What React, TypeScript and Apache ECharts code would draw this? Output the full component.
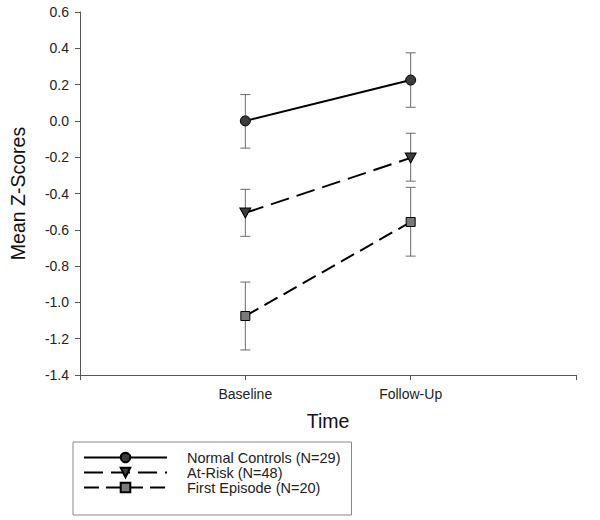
import React, { useEffect, useRef } from "react";
import * as echarts from "echarts";

const timePoints = ["Baseline", "Follow-Up"];
const groupNames = ["Normal Controls (N=29)", "At-Risk (N=48)", "First Episode (N=20)"];

const normalMean = [0.0, 0.225];
const normalLow = [-0.15, 0.075];
const normalHigh = [0.145, 0.375];

const atRiskMean = [-0.507, -0.204];
const atRiskLow = [-0.636, -0.332];
const atRiskHigh = [-0.377, -0.068];

const firstMean = [-1.075, -0.557];
const firstLow = [-1.262, -0.745];
const firstHigh = [-0.888, -0.366];

const yTicks = [-1.4, -1.2, -1.0, -0.8, -0.6, -0.4, -0.2, 0.0, 0.2, 0.4, 0.6];

const FONT = "'Liberation Sans', Arial, Helvetica, sans-serif";

const tri = "path://M0,0 L10,0 L5,9 Z";

function App() {
  const ref = useRef<HTMLDivElement>(null);
  useEffect(() => {
    if (!ref.current) return;
    const chart = echarts.init(ref.current, undefined, { renderer: "svg" });

    const lineData = (m: number[]) => m.map((v, i) => [i + 1, v]);
    const errData = (lo: number[], hi: number[]) => lo.map((v, i) => [i + 1, v, hi[i]]);

    const errSeries = (name: string, lo: number[], hi: number[]) => ({
      type: "custom",
      name: name + "-err",
      z: 1,
      silent: true,
      data: errData(lo, hi),
      encode: { x: 0, y: [1, 2] },
      renderItem: (params: any, api: any) => {
        const x = api.value(0);
        const pLo = api.coord([x, api.value(1)]);
        const pHi = api.coord([x, api.value(2)]);
        const w = 5;
        const st = { stroke: "#6a6a6a", lineWidth: 1 };
        return {
          type: "group",
          children: [
            { type: "line", shape: { x1: pHi[0], y1: pHi[1], x2: pLo[0], y2: pLo[1] }, style: st },
            { type: "line", shape: { x1: pHi[0] - w, y1: pHi[1], x2: pHi[0] + w, y2: pHi[1] }, style: st },
            { type: "line", shape: { x1: pLo[0] - w, y1: pLo[1], x2: pLo[0] + w, y2: pLo[1] }, style: st },
          ],
        };
      },
    });

    const option: any = {
      animation: false,
      backgroundColor: "#ffffff",
      textStyle: { fontFamily: FONT },
      grid: { left: 73, right: 24, top: 12, bottom: 145, containLabel: false },
      xAxis: {
        type: "value",
        min: 0,
        max: 3,
        interval: 1,
        name: "Time",
        nameLocation: "middle",
        nameGap: 36,
        nameTextStyle: { fontSize: 19.5, color: "#111", fontFamily: FONT },
        axisLine: { show: true, onZero: false, lineStyle: { color: "#555", width: 1 } },
        axisTick: { show: true, length: 5, inside: false, lineStyle: { color: "#555" } },
        splitLine: { show: false },
        axisLabel: {
          fontSize: 14,
          color: "#222",
          margin: 12,
          fontFamily: FONT,
          showMinLabel: true,
          showMaxLabel: true,
          formatter: (v: number) => {
            const i = Math.round(v) - 1;
            return i >= 0 && i < timePoints.length ? timePoints[i] : "";
          },
        },
      },
      yAxis: {
        type: "value",
        min: yTicks[0],
        max: yTicks[yTicks.length - 1],
        interval: 0.2,
        name: "Mean Z-Scores",
        nameLocation: "middle",
        nameGap: 52,
        nameTextStyle: { fontSize: 19.5, color: "#111", fontFamily: FONT },
        axisLine: { show: true, onZero: false, lineStyle: { color: "#555", width: 1 } },
        axisTick: { show: true, length: 5, lineStyle: { color: "#555" } },
        splitLine: { show: false },
        axisLabel: {
          fontSize: 14,
          color: "#222",
          margin: 11,
          fontFamily: FONT,
          formatter: (v: number) => (Math.abs(v) < 1e-9 ? "0.0" : v.toFixed(1)),
        },
      },
      legend: {
        show: true,
        orient: "vertical",
        left: 73,
        top: 442,
        data: groupNames,
        itemWidth: 83,
        itemHeight: 12,
        itemGap: 0,
        padding: [8, 11, 20, 10],
        borderColor: "#888",
        borderWidth: 1,
        selectedMode: false,
        textStyle: {
          fontSize: 14.5,
          lineHeight: 15,
          color: "#222",
          fontFamily: FONT,
          padding: [0, 0, 0, 15],
        },
      },
      series: [
        errSeries("nc", normalLow, normalHigh),
        errSeries("ar", atRiskLow, atRiskHigh),
        errSeries("fe", firstLow, firstHigh),
        {
          type: "line",
          name: groupNames[0],
          z: 3,
          data: lineData(normalMean),
          symbol: "circle",
          symbolSize: 10,
          lineStyle: { color: "#000", width: 2, type: "solid" },
          itemStyle: { color: "#3c3c3c", borderColor: "#000", borderWidth: 1 },
        },
        {
          type: "line",
          name: groupNames[1],
          z: 3,
          data: lineData(atRiskMean),
          symbol: tri,
          symbolSize: [11, 10],
          lineStyle: { color: "#000", width: 2, type: [19, 8] },
          itemStyle: { color: "#3c3c3c", borderColor: "#000", borderWidth: 1 },
        },
        {
          type: "line",
          name: groupNames[2],
          z: 3,
          data: lineData(firstMean),
          symbol: "rect",
          symbolSize: 9,
          lineStyle: { color: "#000", width: 2, type: [15, 7] },
          itemStyle: { color: "#7a7a7a", borderColor: "#000", borderWidth: 1 },
        },
      ],
    };
    chart.setOption(option);
    return () => chart.dispose();
  }, []);
  return (
    <div
      ref={ref}
      style={{ position: "absolute", left: 0, top: 0, width: 600, height: 520, background: "#fff" }}
    />
  );
}

export default App;
